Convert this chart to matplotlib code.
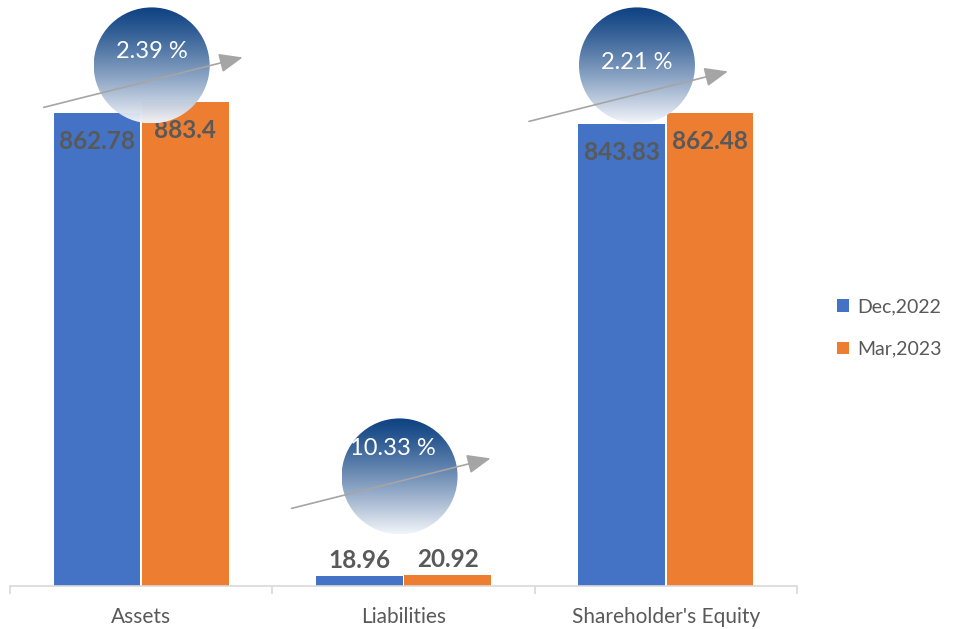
import numpy as np
import matplotlib
matplotlib.use("Agg")
import matplotlib.pyplot as plt
from matplotlib.patches import Circle, Patch

plt.rcParams["font.family"] = ["Lato", "DejaVu Sans"]

# ── data ─────────────────────────────────────────────
categories = ["Assets", "Liabilities", "Shareholder's Equity"]
series_names = ["Dec,2022", "Mar,2023"]
dec_2022 = [862.78, 18.96, 843.83]
mar_2023 = [883.4, 20.92, 862.48]
pct_labels = ["2.39 %", "10.33 %", "2.21 %"]

# ── style / layout ───────────────────────────────────
BLUE = "#4472C4"
ORANGE = "#ED7D31"
TXT = "#595959"
AXIS = "#D9D9D9"
W, H, DPI = 954, 629, 100
BAR_W = 0.33

# bubble layout: centre (data x offset, data y), text offset px, arrow offset px
bubble_dx = [0.04, -0.015, -0.11]
bubble_y = [950, 200, 950]
text_off = [(0, 14), (-7, 28), (0, 3)]
arrow_dy = [-42, -32, -56]
R_PX = 58

fig = plt.figure(figsize=(W / DPI, H / DPI), dpi=DPI)
ax = fig.add_axes([10 / W, 43 / H, 787 / W, 548 / H])
ax.set_xlim(-0.5, 2.5)
ax.set_ylim(0, 1000)

x = np.arange(len(categories))
for vals, off, col in [(dec_2022, -BAR_W / 2 - 0.003, BLUE),
                       (mar_2023, BAR_W / 2 + 0.003, ORANGE)]:
    bars = ax.bar(x + off, vals, width=BAR_W, color=col, zorder=2)
    for b, v in zip(bars, vals):
        cx = b.get_x() + b.get_width() / 2
        dy = -20.5 if v > 100 else 11
        ax.annotate(f"{v:g}", (cx, v), xytext=(0, dy), textcoords="offset points",
                    ha="center", va="center", fontsize=17.5, fontweight="bold",
                    color=TXT, zorder=5)

for s in ["top", "right", "left"]:
    ax.spines[s].set_visible(False)
ax.spines["bottom"].set_color(AXIS)
ax.spines["bottom"].set_linewidth(1.2)
ax.set_yticks([])
ax.set_xticks(x)
ax.set_xticklabels(categories, fontsize=15, color=TXT)
ax.tick_params(axis="x", length=0, pad=15)
ax.set_xticks([-0.5, 0.5, 1.5, 2.5], minor=True)
ax.tick_params(axis="x", which="minor", length=6, color=AXIS, width=1.2)

# ── overlay in pixel space for bubbles and arrows ───
ov = fig.add_axes([0, 0, 1, 1], zorder=3)
ov.set_xlim(0, W)
ov.set_ylim(0, H)
ov.axis("off")
ov.patch.set_alpha(0)

top = np.array([0.03, 0.24, 0.50])
bottom = np.array([0.95, 0.96, 0.98])
n = 200
t = np.linspace(0, 1, n)[:, None] ** 1.2      # 0 at top, 1 at bottom
rgb = top * (1 - t) + bottom * t
grad = rgb[:, None, :]

for i in range(len(categories)):
    cx, cy = ax.transData.transform((x[i] + bubble_dx[i], bubble_y[i]))
    circ = Circle((cx, cy), R_PX, facecolor="none", edgecolor="none")
    ov.add_patch(circ)
    im = ov.imshow(grad, extent=[cx - R_PX, cx + R_PX, cy - R_PX, cy + R_PX],
                   aspect="auto", origin="upper", zorder=1, alpha=0.97)
    im.set_clip_path(circ)
    ov.text(cx + text_off[i][0], cy + text_off[i][1], pct_labels[i],
            ha="center", va="center", fontsize=17, color="white", zorder=3)
    ov.annotate("", xy=(cx + 91, cy + arrow_dy[i] + 50),
                xytext=(cx - 108, cy + arrow_dy[i]),
                arrowprops=dict(arrowstyle="-|>,head_length=1.1,head_width=0.45",
                                color="#A5A5A5", lw=1.2, mutation_scale=13,
                                shrinkA=0, shrinkB=0), zorder=2)

ov.set_xlim(0, W)
ov.set_ylim(0, H)

handles = [Patch(facecolor=BLUE), Patch(facecolor=ORANGE)]
fig.legend(handles, series_names, loc="center left",
           bbox_to_anchor=(820 / W, (H - 328) / H), frameon=False,
           fontsize=14, labelcolor=TXT, handlelength=0.6, handleheight=0.6,
           handletextpad=0.4, labelspacing=1.3)

fig.savefig("out.png", dpi=DPI)
